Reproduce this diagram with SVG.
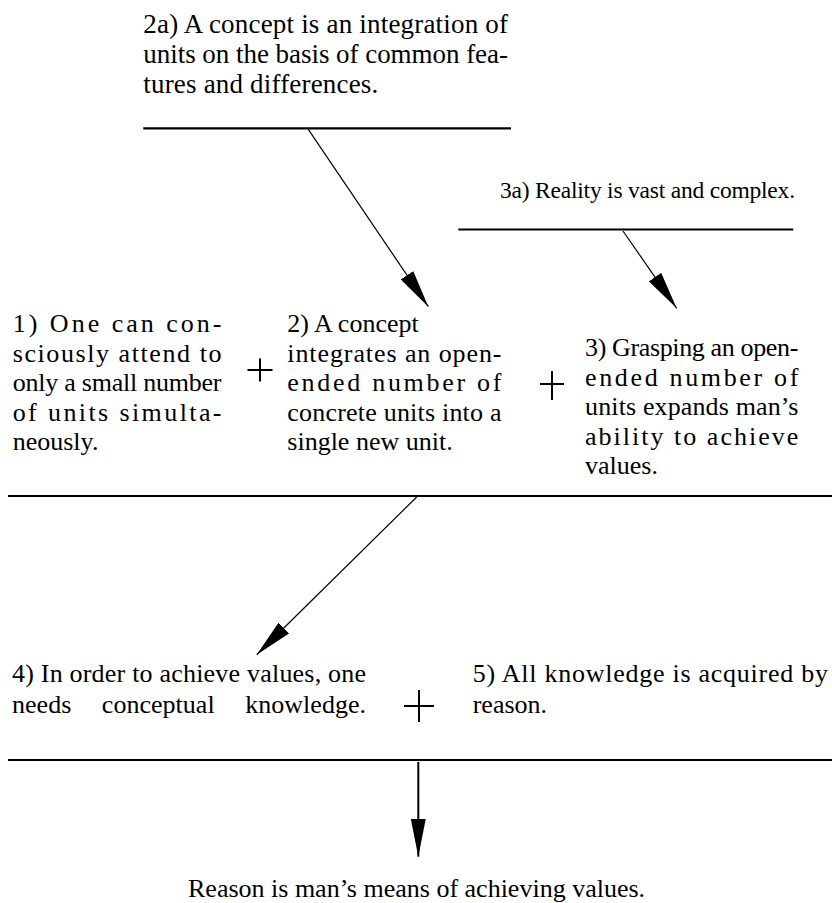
<svg xmlns="http://www.w3.org/2000/svg" width="832" height="903" viewBox="0 0 832 903">
<defs>
<marker id="ah" markerUnits="userSpaceOnUse" markerWidth="38" markerHeight="15" viewBox="0 0 38 15" refX="38" refY="7.5" orient="auto">
<path d="M0,0 L38,7.5 L0,15 z" fill="#000"/>
</marker>
</defs>
<rect width="832" height="903" fill="#fff"/>

<g id="nodes" fill="#000">
<g id="n2a">
<text font-family="Liberation Serif" font-size="27" x="143.3" y="33" textLength="364.7" lengthAdjust="spacing">2a) A concept is an integration of</text>
<text font-family="Liberation Serif" font-size="27" x="143.3" y="63" textLength="364.7" lengthAdjust="spacing">units on the basis of common fea-</text>
<text font-family="Liberation Serif" font-size="27" x="143.3" y="93" textLength="235" lengthAdjust="spacing">tures and differences.</text>
</g>

<g id="n3a">
<text font-family="Liberation Serif" font-size="23.5" x="500" y="198" textLength="295" lengthAdjust="spacing">3a) Reality is vast and complex.</text>
</g>

<g id="n1">
<text font-family="Liberation Serif" font-size="26" x="12.7" y="332" textLength="208.8" lengthAdjust="spacing">1) One can con-</text>
<text font-family="Liberation Serif" font-size="26" x="12.7" y="361.5" textLength="208.8" lengthAdjust="spacing">sciously attend to</text>
<text font-family="Liberation Serif" font-size="26" x="12.7" y="391" textLength="208.8" lengthAdjust="spacing">only a small number</text>
<text font-family="Liberation Serif" font-size="26" x="12.7" y="420.5" textLength="208.8" lengthAdjust="spacing">of units simulta-</text>
<text font-family="Liberation Serif" font-size="26" x="12.7" y="450">neously.</text>
</g>

<g id="n2">
<text font-family="Liberation Serif" font-size="26" x="287.3" y="332">2) A concept</text>
<text font-family="Liberation Serif" font-size="26" x="287.3" y="361.5" textLength="214.2" lengthAdjust="spacing">integrates an open-</text>
<text font-family="Liberation Serif" font-size="26" x="287.3" y="391" textLength="214.2" lengthAdjust="spacing">ended number of</text>
<text font-family="Liberation Serif" font-size="26" x="287.3" y="420.5" textLength="214.2" lengthAdjust="spacing">concrete units into a</text>
<text font-family="Liberation Serif" font-size="26" x="287.3" y="450">single new unit.</text>
</g>

<g id="n3">
<text font-family="Liberation Serif" font-size="26" x="585" y="356" textLength="213.3" lengthAdjust="spacing">3) Grasping an open-</text>
<text font-family="Liberation Serif" font-size="26" x="585" y="385.5" textLength="213.3" lengthAdjust="spacing">ended number of</text>
<text font-family="Liberation Serif" font-size="26" x="585" y="415" textLength="213.3" lengthAdjust="spacing">units expands man’s</text>
<text font-family="Liberation Serif" font-size="26" x="585" y="444.5" textLength="213.3" lengthAdjust="spacing">ability to achieve</text>
<text font-family="Liberation Serif" font-size="26" x="585" y="474">values.</text>
</g>

<g id="n4">
<text font-family="Liberation Serif" font-size="26" x="12" y="681.7" textLength="354" lengthAdjust="spacing">4) In order to achieve values, one</text>
<text font-family="Liberation Serif" font-size="26" x="12" y="713.3" textLength="354" lengthAdjust="spacing" word-spacing="24">needs conceptual knowledge.</text>
</g>

<g id="n5">
<text font-family="Liberation Serif" font-size="26" x="472.7" y="681.7" textLength="355.3" lengthAdjust="spacing">5) All knowledge is acquired by</text>
<text font-family="Liberation Serif" font-size="26" x="472.7" y="713.3">reason.</text>
</g>

<g id="nc">
<text font-family="Liberation Serif" font-size="26" x="188" y="897">Reason is man’s means of achieving values.</text>
</g>
</g>

<g id="bars" stroke="#000" stroke-width="2.2" fill="none">
<line x1="143.3" y1="128.3" x2="511" y2="128.3"/>
<line x1="458.3" y1="229.5" x2="793.3" y2="229.5"/>
<line x1="8" y1="496" x2="832" y2="496"/>
<line x1="8" y1="760" x2="832" y2="760"/>
</g>

<g id="plus-signs" stroke="#000" stroke-width="2" fill="none">
<path d="M247.5,370 H272.5 M260,358.5 V381.5"/>
<path d="M540,384 H564 M552,371 V400"/>
<path d="M404,706 H434 M419,690 V722"/>
</g>

<g id="connectors" stroke="#000" stroke-width="1.2" fill="none" marker-end="url(#ah)">
<line x1="308.3" y1="129.3" x2="428.3" y2="306.7"/>
<line x1="623" y1="231" x2="676.7" y2="308.3"/>
<line x1="416.7" y1="497" x2="256.7" y2="654.7"/>
<line x1="418.3" y1="762" x2="418.3" y2="856.7" stroke-width="2"/>
</g>
</svg>
